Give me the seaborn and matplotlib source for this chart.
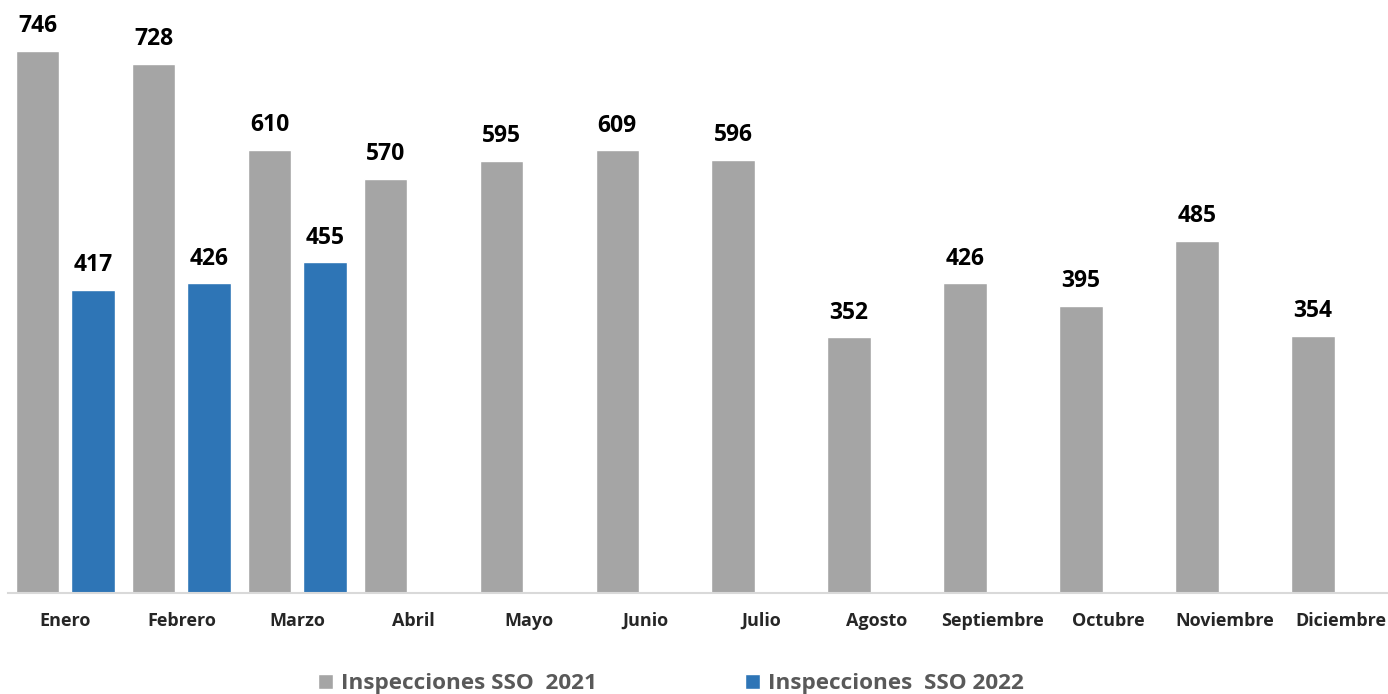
import pandas as pd
import numpy as np
import matplotlib.pyplot as plt
import seaborn as sns

sns.set_style("white")
plt.rcParams['font.family'] = ['Open Sans', 'DejaVu Sans']

meses = ["Enero", "Febrero", "Marzo", "Abril", "Mayo", "Junio", "Julio",
         "Agosto", "Septiembre", "Octubre", "Noviembre", "Diciembre"]
insp_2021 = [746, 728, 610, 570, 595, 609, 596, 352, 426, 395, 485, 354]
insp_2022 = [417, 426, 455]
serie_2021 = "Inspecciones SSO  2021"
serie_2022 = "Inspecciones  SSO 2022"

df = pd.concat([
    pd.DataFrame({"mes": meses, "valor": insp_2021, "serie": serie_2021}),
    pd.DataFrame({"mes": meses[:len(insp_2022)], "valor": insp_2022, "serie": serie_2022}),
])

fig = plt.figure(figsize=(13.88, 6.94), dpi=100)
ax = fig.add_axes([7.5/1388, 101/694, 1391/1388, 593/694])

sns.barplot(data=df, x="mes", y="valor", hue="serie", order=meses,
            hue_order=[serie_2021, serie_2022],
            palette={serie_2021: "#A5A5A5", serie_2022: "#2E75B6"},
            width=111/116, gap=0.216, saturation=1, ax=ax, legend=True)

for c in ax.containers:
    ax.bar_label(c, fmt="%d", padding=9, fontsize=16.5, fontweight="bold", color="black")

ax.set_ylim(0, 816)
ax.set_xlim(-0.5, 11.5)
ax.set_xlabel("")
ax.set_ylabel("")
ax.set_yticks([])
sns.despine(ax=ax, left=True, top=True, right=True)
ax.spines["bottom"].set_color("#D9D9D9")
ax.spines["bottom"].set_linewidth(1.5)
ax.tick_params(axis="x", length=0, pad=13.5, labelsize=13)
for t in ax.get_xticklabels():
    t.set_fontweight("bold")

handles, labels = ax.get_legend_handles_labels()
ax.get_legend().remove()
leg = fig.legend(handles, labels, loc="center", bbox_to_anchor=(671/1388, 10/694),
                 ncol=2, frameon=False, fontsize=16.2, handlelength=0.67, handleheight=0.67,
                 handletextpad=0.36, columnspacing=6.6)
for t in leg.get_texts():
    t.set_color("#595959")
    t.set_fontweight("bold")

fig.savefig("out.png", dpi=100)
